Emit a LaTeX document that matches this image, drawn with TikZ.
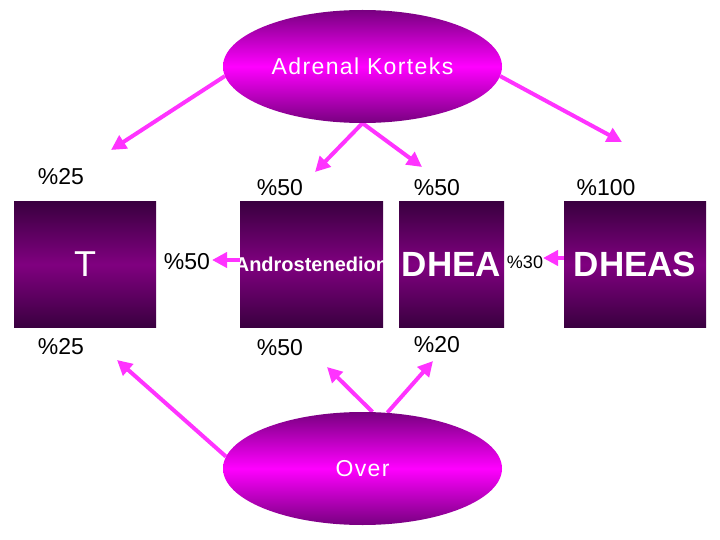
\documentclass[tikz,border=0pt]{standalone}
\usepackage{fontspec}
\setmainfont{Liberation Sans}
\newfontfamily\spacedfont[LetterSpace=6]{Liberation Sans}
\usetikzlibrary{arrows.meta,shapes.geometric,backgrounds}
\definecolor{boxdark}{HTML}{3A0040}
\definecolor{boxmid}{HTML}{800080}
\definecolor{elldark}{HTML}{780080}
\definecolor{ellmid}{HTML}{FF00FF}
\definecolor{arrowc}{HTML}{FF33FF}
\tikzset{
  hbox/.style={rectangle, minimum width=142pt, minimum height=125pt, inner sep=0pt,
    top color=boxdark, bottom color=boxdark, middle color=boxmid, text=white,
    font=\bfseries\fontsize{35}{40}\selectfont},
  ell/.style={ellipse, minimum width=279pt, minimum height=113pt, inner sep=0pt,
    top color=elldark, bottom color=elldark, middle color=ellmid, text=white,
    font=\spacedfont\fontsize{23}{27}\selectfont},
  pct/.style={font=\fontsize{23}{27}\selectfont, inner sep=0pt, text=black},
  arr/.style={draw=arrowc, line width=4pt, -{Triangle[length=15pt,width=15pt]}}
}
\begin{document}
\begin{tikzpicture}[x=1pt,y=-1pt]
\useasboundingbox (0,0) rectangle (720,540);
% ellipses
\node[ell] (adr) at (362.5,66.5) {Adrenal Korteks};
\node[ell] (over) at (362.5,468.5) {Over};
% boxes
\node[hbox, font=\fontsize{36}{40}\selectfont] (T) at (85,264.5) {T};
\node[hbox, minimum width=143pt] (andro) at (311.5,264.5)
  {\makebox[0pt]{\fontsize{20}{24}\selectfont Androstenedion}};
\node[hbox, minimum width=105pt] (dhea) at (451.5,264.5) {DHEA};
\node[hbox] (dheas) at (635,264.5) {DHEAS};
% labels
\node[pct] (l25a) at (61,177) {\%25};
\node[pct] (l50a) at (280,188) {\%50};
\node[pct] (l50b) at (437,188) {\%50};
\node[pct] (l100) at (606,188) {\%100};
\node[pct] (l50c) at (187,262) {\%50};
\node[pct, font=\fontsize{18}{22}\selectfont] (l30) at (525,262) {\%30};
\node[pct] (l25b) at (61,347) {\%25};
\node[pct] (l50d) at (280,348) {\%50};
\node[pct] (l20) at (437,345) {\%20};
% arrow tips
\coordinate (t1) at (111,150);
\coordinate (t2) at (315,172);
\coordinate (t3) at (422,167);
\coordinate (t4) at (622,142);
\coordinate (b1) at (117,360);
\coordinate (b2) at (327,367);
\coordinate (b3) at (433,361);
\coordinate (h1) at (212,260);
\coordinate (h2) at (543,258);
\begin{scope}[on background layer]
\draw[arr] (adr.184) -- (t1);
\draw[arr] (adr.south) -- (t2);
\draw[arr] (adr.south) -- (t3);
\draw[arr] (adr.356) -- (t4);
\draw[arr] (over.175) -- (b1);
\draw[arr] (over.80) -- (b2);
\draw[arr] (over.66) -- (b3);
\end{scope}
\draw[arr] (andro.west |- h1) -- (h1);
\draw[arr] (dheas.west |- h2) -- (h2);
\end{tikzpicture}
\end{document}
